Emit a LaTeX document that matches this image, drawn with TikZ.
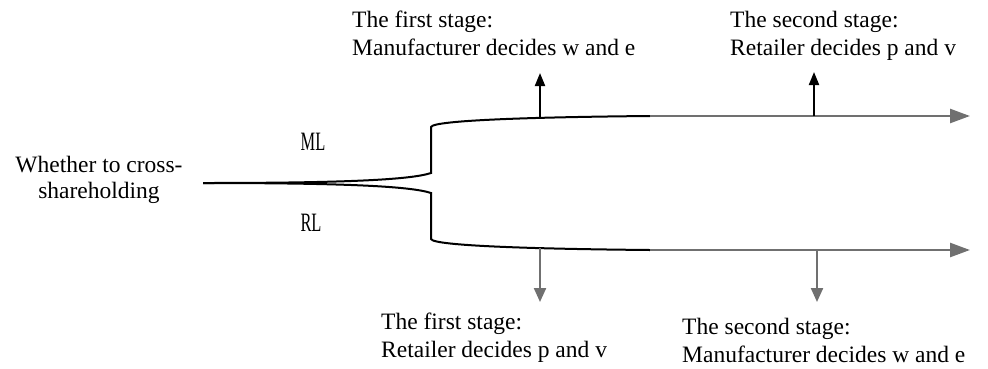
\documentclass[tikz,border=0pt]{standalone}
\usepackage{fontspec}
\usepackage{graphicx}
\setmainfont{Liberation Serif}
\usetikzlibrary{arrows.meta}
\definecolor{arrgray}{RGB}{112,112,112}
\begin{document}
\begin{tikzpicture}[x=1pt,y=-1pt,
  lbl/.style={inner sep=0pt, align=left, font=\fontsize{23.5}{27.5}\selectfont, anchor=base west},
  srclbl/.style={inner sep=0pt, align=center, font=\fontsize{23.5}{26}\selectfont, anchor=base},
  branchlbl/.style={inner sep=0pt, font=\fontsize{26.5}{28}\selectfont},
  blk/.style={line width=2pt, black},
  gry/.style={line width=2.6pt, arrgray},
  uparrow/.style={blk, -{Triangle[length=13pt,width=10pt]}},
  downarrow/.style={gry, line width=2.2pt, -{Triangle[length=14pt,width=12pt]}},
  mainarrow/.style={gry, -{Triangle[length=20pt,width=14pt]}}]
\useasboundingbox (0,0) rectangle (988,368);

% text labels (anchor = baseline of the last line)
\node[srclbl] (src) at (99,198) {Whether to cross-\\shareholding};
\node[branchlbl] (ml) at (313,142) {\scalebox{0.62}[1]{ML}};
\node[branchlbl] (rl) at (311,223) {\scalebox{0.62}[1]{RL}};
\node[lbl] (ml1) at (352,55) {The first stage:\\Manufacturer decides w and e};
\node[lbl] (ml2) at (730,55) {The second stage:\\Retailer decides p and v};
\node[lbl] (rl1) at (381,357) {The first stage:\\Retailer decides p and v};
\node[lbl] (rl2) at (682,362) {The second stage:\\Manufacturer decides w and e};

% coordinates
\coordinate (root) at (203,183);
\coordinate (uA) at (431,173);
\coordinate (uB) at (431,127);
\coordinate (uC) at (650,116);
\coordinate (uEnd) at (970,116);
\coordinate (lA) at (431,193);
\coordinate (lB) at (431,239);
\coordinate (lC) at (650,250);
\coordinate (lEnd) at (970,250);

\coordinate (u1s) at (540,118.5);
\coordinate (u1t) at (540,73);
\coordinate (u2s) at (814,116);
\coordinate (u2t) at (814,72);
\coordinate (d1s) at (540,248);
\coordinate (d1t) at (540,302);
\coordinate (d2s) at (817,250);
\coordinate (d2t) at (817,302);

% branches
\draw[blk] (root) .. controls (340,183) and (410,180) .. (uA) -- (uB)
  .. controls (433,120) and (540,117) .. (uC);
\draw[blk] (root) .. controls (340,183) and (410,186) .. (lA) -- (lB)
  .. controls (433,246) and (540,249) .. (lC);
\draw[mainarrow] (uC) -- (uEnd);
\draw[mainarrow] (lC) -- (lEnd);

% stage arrows
\draw[uparrow] (u1s) -- (u1t);
\draw[uparrow] (u2s) -- (u2t);
\draw[downarrow] (d1s) -- (d1t);
\draw[downarrow] (d2s) -- (d2t);
\end{tikzpicture}
\end{document}
